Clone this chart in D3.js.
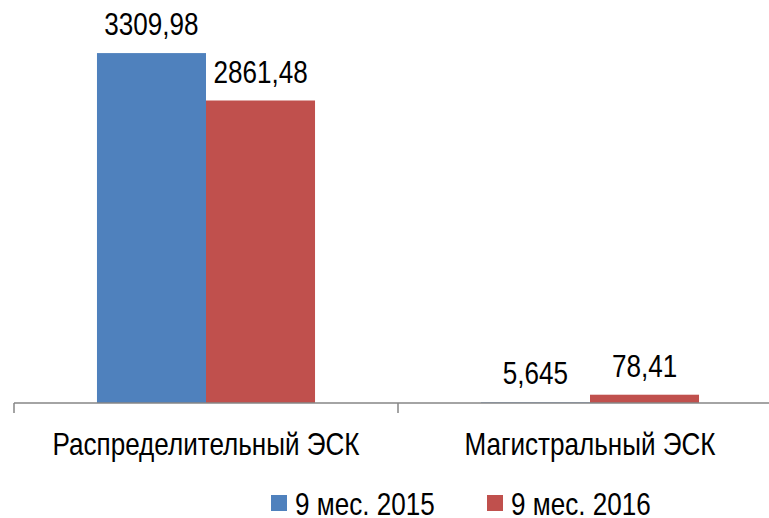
<!DOCTYPE html>
<html><head><meta charset="utf-8">
<script src="https://cdn.jsdelivr.net/npm/d3@7"></script>
<style>body{margin:0;background:#fff}</style>
</head><body>
<svg id="c" width="769" height="518"></svg>
<script>
const categories = ["Распределительный ЭСК", "Магистральный ЭСК"];
const seriesNames = ["9 мес. 2015", "9 мес. 2016"];
const values2015 = [3309.98, 5.645];
const values2016 = [2861.48, 78.41];
const valueLabels2015 = ["3309,98", "5,645"];
const valueLabels2016 = ["2861,48", "78,41"];
const colors = ["#4F81BD", "#C0504D"];

const FONT = "'Liberation Sans', Arial, sans-serif";
const SX = 0.815;
const svg = d3.select("#c");
const axisY = 403;
const x0 = d3.scaleBand().domain(categories).range([14, 782]).paddingInner(0).paddingOuter(0);
const x1 = d3.scaleBand().domain(seriesNames).range([0, x0.bandwidth()]).paddingInner(0).paddingOuter(0.761);
const y = d3.scaleLinear().domain([0, 3500]).range([axisY, axisY - 370]);

const data = categories.map((c, i) => ({
  cat: c,
  vals: [
    {s: seriesNames[0], v: values2015[i], lab: valueLabels2015[i], col: colors[0]},
    {s: seriesNames[1], v: values2016[i], lab: valueLabels2016[i], col: colors[1]}
  ]
}));

function narrowText(sel, anchor) {
  sel.attr("text-anchor", anchor).attr("font-family", FONT).attr("font-size", 32).attr("fill", "#000");
}

const g = svg.selectAll("g.grp").data(data).join("g").attr("class","grp")
  .attr("transform", d => `translate(${x0(d.cat)},0)`);
g.selectAll("rect").data(d => d.vals).join("rect")
  .attr("x", d => x1(d.s)).attr("width", x1.bandwidth())
  .attr("y", d => y(d.v)).attr("height", d => axisY - y(d.v))
  .attr("fill", d => d.col);
g.selectAll("text.val").data(d => d.vals).join("text").attr("class","val")
  .attr("transform", d => `translate(${x1(d.s) + x1.bandwidth()/2},${y(d.v) - 18}) scale(${SX},1)`)
  .call(narrowText, "middle")
  .text(d => d.lab);

// axis
const axisColor = "#868686";
svg.append("line").attr("x1", 14).attr("x2", 782).attr("y1", axisY).attr("y2", axisY)
  .attr("stroke", axisColor).attr("stroke-width", 1.5);
const tickXs = categories.map(c => x0(c)).concat([x0.range()[1]]);
svg.selectAll("line.tick").data(tickXs).join("line").attr("class","tick")
  .attr("x1", d => d).attr("x2", d => d).attr("y1", axisY).attr("y2", axisY + 10)
  .attr("stroke", axisColor).attr("stroke-width", 1.5);
svg.selectAll("text.cat").data(categories).join("text").attr("class","cat")
  .attr("transform", d => `translate(${x0(d) + x0.bandwidth()/2},455) scale(${SX},1)`)
  .call(narrowText, "middle")
  .text(d => d);

// legend
const legendX = [271, 487];
const lg = svg.selectAll("g.leg").data(seriesNames).join("g").attr("class","leg")
  .attr("transform", (d,i) => `translate(${legendX[i]},0)`);
lg.append("rect").attr("x",0).attr("y",495).attr("width",16).attr("height",16).attr("fill",(d,i)=>colors[i]);
lg.append("text").attr("transform", `translate(24,515) scale(${SX},1)`)
  .call(narrowText, "start").text(d=>d);
</script>
</body></html>
